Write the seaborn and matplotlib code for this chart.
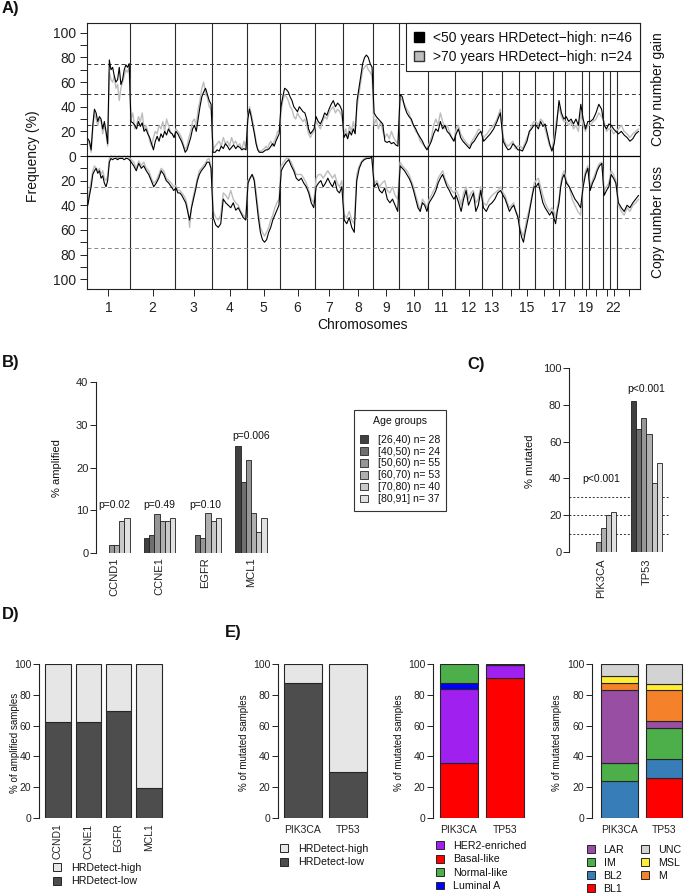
import numpy as np
import pandas as pd
import matplotlib
matplotlib.use("Agg")
import matplotlib.pyplot as plt
from matplotlib.patches import Patch
import seaborn as sns

W, H = 685, 894

# ---------------- A) copy number gain / loss frequencies ----------------
chrom_labels = [str(c) for c in range(1, 23)] + ["X"]
chrom_width = [43, 45, 37, 35, 33, 35, 28, 30, 26, 29, 27, 27, 20, 17, 16, 18, 12, 17, 7, 14, 7, 7, 23]
chrom_shown = ["1", "2", "3", "4", "5", "6", "7", "8", "9", "10", "11", "12", "13", "15", "17", "19", "22"]

# <50 years HRDetect-high (black)
gain_young = [
    [14, 12, 5, 25, 38, 35, 28, 32, 30, 22, 28, 20, 10, 78, 70, 72, 65, 60, 62, 72, 58, 62, 70, 74, 72, 75],
    [28, 27, 25, 22, 28, 24, 27, 20, 22, 18, 15, 10, 5, 12, 16, 12, 18, 15, 20, 17, 22, 19, 18, 15],
    [20, 18, 15, 12, 8, 3, 5, 10, 15, 22, 25, 20, 30, 40, 48, 52, 55, 50, 45, 42],
    [3, 3, 5, 4, 8, 6, 10, 8, 5, 7, 9, 6, 8, 7, 5, 6, 5],
    [30, 38, 32, 25, 18, 10, 5, 3, 3, 3, 4, 5, 5, 6, 8, 10, 8, 12, 15, 18],
    [40, 48, 55, 54, 52, 48, 45, 40, 38, 36, 40, 38, 36, 35, 30, 22, 18, 20, 22],
    [32, 28, 26, 30, 35, 33, 38, 42, 45, 40, 43, 41, 37],
    [15, 18, 14, 20, 17, 22, 18, 45, 55, 65, 75, 80, 82, 80, 75, 72],
    [35, 32, 30, 28, 26, 12, 11, 12, 10, 11, 9, 8],
    [50, 48, 40, 35, 32, 30, 25, 22, 18, 15, 12, 8, 5],
    [8, 12, 18, 22, 20, 28, 22, 25, 20, 18, 15, 12],
    [18, 22, 15, 12, 10, 8, 6, 10, 12, 15, 18, 20],
    [12, 15, 18, 22, 28, 35],
    [12, 8, 5, 6, 10, 8, 5],
    [5, 4, 8, 12, 20, 22, 25],
    [25, 22, 28, 24, 26, 18, 10, 4],
    [10, 25, 45, 35, 30],
    [32, 28, 30, 26, 30, 25, 42],
    [30, 22, 28],
    [28, 30, 35, 42, 38],
    [25, 22, 26],
    [25, 22, 20],
    [18, 20, 17, 15, 12, 14, 18, 20],
]
# >70 years HRDetect-high (grey)
gain_old = [
    [12, 10, 3, 22, 35, 30, 25, 30, 28, 18, 25, 18, 8, 68, 62, 60, 65, 55, 58, 45, 55, 60, 65, 70, 68, 72],
    [30, 35, 22, 25, 32, 28, 35, 22, 25, 20, 12, 8, 15, 20, 18, 25, 22, 28, 20, 30, 25, 20, 18, 15],
    [22, 20, 18, 15, 10, 5, 8, 15, 20, 28, 30, 25, 38, 45, 55, 60, 50, 48, 40, 38],
    [5, 8, 10, 12, 8, 15, 10, 12, 8, 15, 10, 12, 8, 10, 5, 12, 6],
    [32, 40, 35, 28, 20, 12, 6, 4, 4, 5, 6, 8, 6, 10, 12, 8, 12, 15, 20, 20],
    [35, 45, 50, 48, 45, 40, 38, 32, 30, 35, 32, 30, 28, 30, 25, 18, 15, 18, 20],
    [28, 25, 22, 28, 32, 30, 35, 38, 40, 35, 38, 36, 32],
    [18, 22, 15, 25, 20, 28, 20, 40, 50, 60, 70, 72, 74, 70, 68, 65],
    [25, 30, 22, 28, 20, 15, 18, 14, 20, 15, 12, 10],
    [48, 45, 42, 38, 35, 28, 25, 20, 18, 12, 10, 8, 6],
    [10, 15, 25, 30, 25, 35, 28, 22, 25, 20, 15, 12],
    [22, 25, 18, 15, 12, 10, 8, 12, 15, 18, 22, 20],
    [15, 18, 22, 25, 30, 38],
    [15, 10, 8, 10, 12, 6, 8],
    [8, 6, 10, 15, 18, 25, 28],
    [28, 25, 30, 28, 22, 15, 8, 5],
    [15, 30, 40, 32, 28],
    [28, 25, 28, 22, 25, 20, 35],
    [25, 20, 25],
    [25, 28, 30, 35, 32],
    [28, 20, 22],
    [22, 18, 20],
    [22, 25, 20, 18, 15, 18, 20, 22],
]
loss_young = [
    [40, 32, 25, 15, 12, 10, 14, 12, 18, 16, 22, 25, 20, 5, 2, 3, 2, 2, 3, 2, 2, 2, 3, 2, 2, 3],
    [5, 8, 12, 6, 10, 8, 12, 15, 20, 25, 22, 18, 12, 15, 20, 22, 25, 28],
    [26, 30, 30, 32, 35, 38, 45, 52, 42, 35, 28, 20, 15, 12, 10, 8, 5, 5, 10],
    [50, 56, 58, 55, 35, 38, 40, 42, 38, 44, 42, 46, 50, 52],
    [22, 18, 15, 20, 35, 50, 62, 68, 70, 68, 62, 58, 52, 48, 44, 40],
    [12, 8, 5, 3, 8, 12, 18, 20, 18, 22, 25, 30, 38, 42],
    [25, 22, 20, 25, 22, 18, 22, 25, 20, 28, 30, 25],
    [52, 55, 50, 58, 62, 20, 10, 5, 3, 2, 2, 1],
    [25, 22, 28, 30, 26, 35, 38, 35, 40, 45],
    [8, 10, 12, 15, 18, 22, 28, 35, 42, 45, 38, 40, 45],
    [38, 35, 32, 28, 22, 18, 15, 20, 25, 28, 32, 35],
    [32, 38, 45, 35, 28, 40, 35, 30, 45, 40, 28],
    [42, 45, 40, 38, 35, 30, 28],
    [32, 35, 40, 45, 42, 40, 45, 50],
    [60, 66, 70, 62, 55, 48, 40, 32, 25],
    [25, 22, 30, 38, 42, 45, 48, 45],
    [50, 55, 45, 38, 25, 18, 15],
    [22, 25, 30, 35, 38, 42],
    [25, 15, 10],
    [28, 22, 18, 12, 8, 6],
    [32, 28, 25],
    [15, 18, 22],
    [38, 42, 45, 40, 42, 38, 35, 32],
]
loss_old = [
    [38, 28, 20, 12, 8, 10, 12, 10, 15, 12, 18, 20, 16, 2, 0, 1, 0, 1, 2, 0, 1, 1, 0, 1, 0, 1],
    [3, 5, 10, 4, 8, 5, 10, 12, 18, 22, 20, 15, 10, 12, 18, 20, 22, 25],
    [24, 28, 28, 30, 32, 35, 42, 58, 40, 32, 25, 18, 12, 10, 8, 6, 3, 2, 8],
    [45, 50, 52, 48, 30, 32, 35, 28, 35, 38, 40, 45, 48, 50],
    [20, 18, 15, 18, 30, 45, 58, 62, 65, 62, 58, 52, 48, 42, 38, 35],
    [8, 5, 2, 2, 5, 10, 15, 15, 15, 18, 22, 28, 35, 38],
    [18, 15, 15, 18, 15, 12, 15, 18, 15, 22, 25, 20],
    [48, 50, 45, 52, 55, 15, 8, 4, 2, 1, 1, 0],
    [22, 20, 25, 22, 20, 28, 30, 25, 32, 35],
    [5, 8, 10, 12, 15, 20, 25, 32, 38, 45, 35, 38, 42],
    [35, 32, 28, 25, 18, 15, 12, 18, 22, 25, 28, 30],
    [28, 32, 40, 30, 25, 35, 30, 28, 38, 35, 25],
    [38, 40, 35, 32, 30, 28, 25],
    [30, 32, 38, 42, 40, 38, 45, 48],
    [58, 62, 65, 58, 50, 45, 38, 30, 22],
    [20, 18, 25, 32, 38, 42, 45, 42],
    [45, 50, 42, 35, 22, 15, 12],
    [20, 25, 35, 40, 45, 48],
    [22, 12, 8],
    [25, 20, 15, 10, 6, 5],
    [28, 25, 22],
    [12, 15, 20],
    [40, 45, 48, 42, 45, 40, 38, 35],
]

# ---------------- B) amplification by age group ----------------
age_groups = ["[26,40) n= 28", "[40,50) n= 24", "[50,60) n= 55",
              "[60,70) n= 53", "[70,80) n= 40", "[80,91] n= 37"]
age_colors = ["#404040", "#6F6F6F", "#969696", "#AFAFAF", "#C9C9C9", "#E1E1E1"]
amp_genes = ["CCND1", "CCNE1", "EGFR", "MCL1"]
amp_pct = [[0, 0, 1.8, 1.9, 7.5, 8.1],
           [3.6, 4.2, 9.1, 7.5, 7.5, 8.1],
           [0, 4.2, 3.6, 9.4, 7.5, 8.1],
           [25.0, 16.7, 21.8, 9.4, 5.0, 8.1]]
amp_pvals = ["p=0.02", "p=0.49", "p=0.10", "p=0.006"]

# ---------------- C) mutation by age group ----------------
mut_genes = ["PIK3CA", "TP53"]
mut_pct = [[0, 0, 5.5, 13.2, 20.0, 21.6],
           [82.1, 66.7, 72.7, 64.2, 37.5, 48.6]]
mut_pvals = ["p<0.001", "p<0.001"]

# ---------------- D) / E) composition of altered samples ----------------
hrd_labels = ["HRDetect-high", "HRDetect-low"]
hrd_low_amp = [62.5, 62.5, 69.2, 19.4]
hrd_low_mut = [87.5, 30.1]

pam50_classes = ["Basal-like", "HER2-enriched", "Luminal A", "Normal-like"]
pam50_colors = ["#FF0000", "#A020F0", "#0000FF", "#4DAF4A"]
pam50_pik3ca = [36.0, 47.8, 4.1, 12.1]
pam50_tp53 = [90.8, 8.4, 0.0, 0.8]
pam50_legend = ["HER2-enriched", "Basal-like", "Normal-like", "Luminal A"]

tnbc_classes = ["BL1", "BL2", "IM", "LAR", "M", "MSL", "UNC"]
tnbc_colors = ["#FF0000", "#377EB8", "#4DAF4A", "#984EA3", "#F5822A", "#FFEE33", "#D3D3D3"]
tnbc_pik3ca = [0.0, 23.8, 11.9, 47.6, 4.3, 4.3, 8.1]
tnbc_tp53 = [26.2, 12.3, 19.8, 4.8, 19.8, 4.0, 13.1]
tnbc_legend = ["LAR", "IM", "BL2", "BL1", "UNC", "MSL", "M"]

DARK, LIGHT = "#4D4D4D", "#E6E6E6"
EDGE = "#262626"

sns.set_style("ticks")
plt.rcParams["font.family"] = ["Liberation Sans", "DejaVu Sans"]
plt.rcParams["axes.linewidth"] = 0.8
plt.rcParams["axes.edgecolor"] = "#222222"
plt.rcParams["xtick.color"] = "#222222"
plt.rcParams["ytick.color"] = "#222222"
plt.rcParams["text.color"] = "#111111"

fig = plt.figure(figsize=(W / 100, H / 100), dpi=100)


def px_axes(left, top, bottom, x0, x1, pitch):
    """Axes placed in pixel units; pitch = pixels per x data unit."""
    width = (x1 - x0) * pitch
    ax = fig.add_axes([left / W, 1 - bottom / H, width / W, (bottom - top) / H])
    ax.set_xlim(x0, x1)
    return ax


def fig_text(x, y, s, **kw):
    fig.text(x / W, 1 - y / H, s, **kw)


def square_legend(ax, labels, colors, x, y, fs=7.7, ncol=1, **kw):
    handles = [Patch(facecolor=c, edgecolor=EDGE, linewidth=0.7) for c in colors]
    opts = dict(loc="upper left", bbox_to_anchor=(x / W, 1 - y / H),
                bbox_transform=fig.transFigure, frameon=False, fontsize=fs,
                handlelength=0.75, handleheight=0.75, handletextpad=0.9,
                labelspacing=0.32, borderpad=0, borderaxespad=0, ncols=ncol)
    opts.update(kw)
    return ax.legend(handles, labels, **opts)


# ======================= A =======================
axA = fig.add_axes([87 / W, 1 - 289 / H, 553 / W, 266 / H])
edges = np.concatenate([[0], np.cumsum(chrom_width)])


def profile(series):
    xs, ys = [], []
    for k, vals in enumerate(series):
        n = len(vals)
        xs.extend(edges[k] + (np.arange(n) + 0.5) * chrom_width[k] / n)
        ys.extend(vals)
    return np.array(xs), np.array(ys, dtype=float)


for e in edges[1:-1]:
    axA.axvline(e, color="#2b2b2b", lw=0.8, zorder=1)
for v in (25, 50, 75):
    axA.axhline(v, color="#333333", lw=0.7, ls=(0, (4, 3)), zorder=1)
    axA.axhline(-v, color="#8a8a8a", lw=0.7, ls=(0, (4, 3)), zorder=1)

x, y = profile(gain_old)
axA.plot(x, y, color="#BDBDBD", lw=1.0, zorder=2)
x, y = profile(loss_old)
axA.plot(x, -y, color="#BDBDBD", lw=1.0, zorder=2)
x, y = profile(gain_young)
axA.plot(x, y, color="black", lw=0.8, zorder=3)
x, y = profile(loss_young)
axA.plot(x, -y, color="black", lw=0.8, zorder=3)
axA.axhline(0, color="black", lw=0.9, zorder=4)

axA.set_xlim(0, edges[-1])
axA.set_ylim(-108, 108)
yt = np.arange(-100, 101, 20)
axA.set_yticks(yt)
axA.set_yticklabels([str(abs(v)) for v in yt])
axA.set_yticks(np.arange(-90, 100, 20), minor=True)
axA.tick_params(axis="y", which="both", length=5, width=0.7, pad=3, labelsize=10)
centers = (edges[:-1] + edges[1:]) / 2
axA.set_xticks(centers)
axA.set_xticklabels([c if c in chrom_shown else "" for c in chrom_labels])
axA.tick_params(axis="x", length=5, width=0.7, pad=4, labelsize=10)

legA = axA.legend([Patch(facecolor="black", edgecolor="black"),
                   Patch(facecolor="#BEBEBE", edgecolor="#333333")],
                  ["<50 years HRDetect\u2212high: n=46", ">70 years HRDetect\u2212high: n=24"],
                  loc="upper right", bbox_to_anchor=(1, 1), borderaxespad=0,
                  fontsize=10, handlelength=0.7, handleheight=0.7, handletextpad=0.7,
                  labelspacing=0.35, borderpad=0.55, fancybox=False,
                  edgecolor="#222222", framealpha=1)
legA.get_frame().set_linewidth(0.8)
legA.set_zorder(10)

fig_text(33, 156, "Frequency (%)", rotation=90, ha="center", va="center", fontsize=10)
fig_text(363, 325, "Chromosomes", ha="center", va="center", fontsize=10)
fig_text(658, 89, "Copy number gain", rotation=90, ha="center", va="center", fontsize=10)
fig_text(658, 222, "Copy number loss", rotation=90, ha="center", va="center", fontsize=10)

# ======================= B =======================
axB = px_axes(96, 382, 553, -0.394, 3.45, 45.67)
df_amp = pd.DataFrame({"gene": np.repeat(amp_genes, len(age_groups)),
                       "age": age_groups * len(amp_genes),
                       "pct": np.ravel(amp_pct)})
sns.barplot(data=df_amp, x="gene", y="pct", hue="age", hue_order=age_groups,
            palette=age_colors, width=0.68, gap=0, edgecolor="#1e1e1e",
            linewidth=0.6, errorbar=None, legend=False, ax=axB)
axB.set_xlim(-0.394, 3.45)
axB.set_ylim(0, 40)
axB.set_yticks([0, 10, 20, 30, 40])
axB.set_xlabel("")
axB.set_ylabel("")
sns.despine(ax=axB, bottom=True)
axB.tick_params(axis="y", length=4, width=0.7, pad=1.5, labelsize=8)
axB.tick_params(axis="x", length=0, pad=3, labelsize=8, labelrotation=90)
for i, (p, yy) in enumerate(zip(amp_pvals, [11.3, 11.3, 11.3, 27.4])):
    axB.text(i, yy, p, ha="center", va="center", fontsize=7.5)
fig_text(57, 468, "% amplified", rotation=90, ha="center", va="center", fontsize=8)

legB = axB.legend([Patch(facecolor=c, edgecolor=EDGE, linewidth=0.6) for c in age_colors],
                  age_groups, title="Age groups", loc="upper left",
                  bbox_to_anchor=(354 / W, 1 - 410 / H), bbox_transform=fig.transFigure,
                  borderaxespad=0, fontsize=7.6, title_fontsize=7.6,
                  handlelength=0.75, handleheight=0.75, handletextpad=0.9,
                  labelspacing=0.18, borderpad=0.6, fancybox=False,
                  edgecolor="#333333", framealpha=1)
legB.get_frame().set_linewidth(0.8)
legB._legend_box.sep = 6

# ======================= C =======================
axC = px_axes(569, 368, 552, -0.703, 1.52, 45.5)
df_mut = pd.DataFrame({"gene": np.repeat(mut_genes, len(age_groups)),
                       "age": age_groups * len(mut_genes),
                       "pct": np.ravel(mut_pct)})
for v in (10, 20, 30):
    axC.axhline(v, color="#333333", lw=0.7, ls=(0, (2, 2)), zorder=0)
sns.barplot(data=df_mut, x="gene", y="pct", hue="age", hue_order=age_groups,
            palette=age_colors, width=0.67, gap=0, edgecolor="#1e1e1e",
            linewidth=0.6, errorbar=None, legend=False, ax=axC)
axC.set_xlim(-0.703, 1.52)
axC.set_ylim(0, 100)
axC.set_yticks(range(0, 101, 20))
axC.set_xlabel("")
axC.set_ylabel("")
sns.despine(ax=axC, bottom=True)
axC.tick_params(axis="y", length=4, width=0.7, pad=1.5, labelsize=8)
axC.tick_params(axis="x", length=0, pad=5, labelsize=8, labelrotation=90)
for i, (p, yy) in enumerate(zip(mut_pvals, [39.7, 88.6])):
    axC.text(i, yy, p, ha="center", va="center", fontsize=7.5)
fig_text(530, 461, "% mutated", rotation=90, ha="center", va="center", fontsize=8)


# ======================= D / E helpers =======================
def style_stack(ax, genes, rotate=False):
    ax.set_ylim(0, 100)
    ax.set_yticks(range(0, 101, 20))
    ax.set_xticks(range(len(genes)))
    ax.set_xticklabels(genes)
    sns.despine(ax=ax, bottom=True)
    ax.tick_params(axis="y", length=4, width=0.7, pad=1.5, labelsize=7.5)
    ax.tick_params(axis="x", length=0, pad=4 if rotate else 5, labelsize=7.5,
                   labelrotation=90 if rotate else 0)


def stacked(ax, columns, colors, width):
    arr = np.array(columns, dtype=float)  # genes x classes
    bottom = np.zeros(arr.shape[0])
    xs = np.arange(arr.shape[0])
    for j in range(arr.shape[1]):
        ax.bar(xs, arr[:, j], bottom=bottom, width=width, color=colors[j],
               edgecolor=EDGE, linewidth=0.8)
        bottom += arr[:, j]


# ======================= D =======================
axD = px_axes(39, 664, 818, -0.627, 3.55, 30.3)
stacked(axD, [[lo, 100 - lo] for lo in hrd_low_amp], [DARK, LIGHT], 0.84)
style_stack(axD, amp_genes, rotate=True)
fig_text(15, 743, "% of amplified samples", rotation=90, ha="center", va="center", fontsize=7)
square_legend(axD, hrd_labels, [LIGHT, DARK], 53, 863)

# ======================= E1 =======================
axE1 = px_axes(278, 664, 818, -0.553, 1.52, 45)
stacked(axE1, [[lo, 100 - lo] for lo in hrd_low_mut], [DARK, LIGHT], 0.84)
style_stack(axE1, mut_genes)
fig_text(244, 743, "% of mutated samples", rotation=90, ha="center", va="center", fontsize=7)
square_legend(axE1, hrd_labels, [LIGHT, DARK], 280, 844)

# ======================= E2 =======================
axE2 = px_axes(433, 664, 818, -0.565, 1.52, 46)
stacked(axE2, [pam50_pik3ca, pam50_tp53], pam50_colors, 0.83)
style_stack(axE2, mut_genes)
fig_text(399, 743, "% of mutated samples", rotation=90, ha="center", va="center", fontsize=7)
square_legend(axE2, pam50_legend,
              [pam50_colors[pam50_classes.index(c)] for c in pam50_legend], 436, 841,
              handletextpad=0.85)

# ======================= E3 =======================
axE3 = px_axes(592, 664, 818, -0.618, 1.47, 44.5)
stacked(axE3, [tnbc_pik3ca, tnbc_tp53], tnbc_colors, 0.82)
style_stack(axE3, mut_genes)
fig_text(557, 743, "% of mutated samples", rotation=90, ha="center", va="center", fontsize=7)
square_legend(axE3, tnbc_legend,
              [tnbc_colors[tnbc_classes.index(c)] for c in tnbc_legend], 587, 845,
              ncol=2, columnspacing=1.6, labelspacing=0.27, handletextpad=0.8)

# panel letters
for s, (px, py) in {"A)": (2, 9), "B)": (2, 363), "C)": (467, 365),
                    "D)": (2, 615), "E)": (225, 632)}.items():
    fig_text(px, py, s, ha="left", va="center", fontsize=12, fontweight="bold")

fig.savefig("out.png", dpi=100)
